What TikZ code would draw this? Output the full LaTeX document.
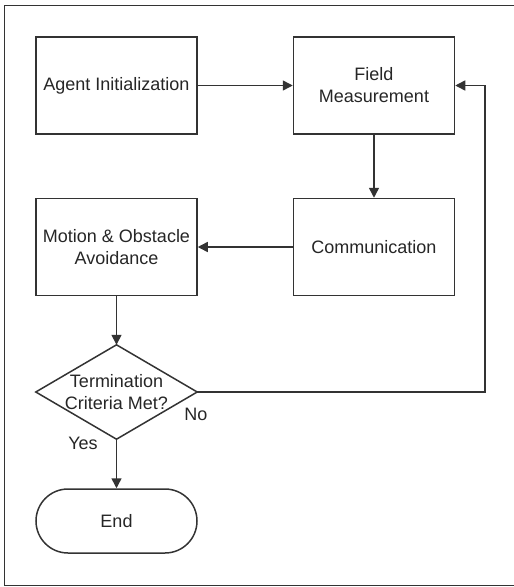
\documentclass[tikz,border=0pt]{standalone}
\usepackage{fontspec}
\setmainfont{Liberation Sans}
\usetikzlibrary{arrows.meta}
\begin{document}
\begin{tikzpicture}[x=1pt,y=-1pt,
  every node/.style={font=\fontsize{18}{22}\selectfont, text=black!85, align=center},
  box/.style={draw=black!80, line width=1.5pt, minimum width=161pt, minimum height=97pt, inner sep=0pt},
  term/.style={draw=black!80, line width=1.5pt, minimum width=161pt, minimum height=64pt, inner sep=0pt, rounded corners=32pt},
  decbox/.style={minimum width=161pt, minimum height=94pt, inner sep=0pt},
  arr/.style={draw=black!80, line width=1.5pt, -{Triangle[length=10pt,width=10pt]}},
  lbl/.style={inner sep=0pt}]
\useasboundingbox (0,0) rectangle (514,587);
\draw[black!80, line width=1pt] (516,5) -- (4,5) -- (4,585) -- (516,585);
\node[box] (agent) at (116.5,85.5) {Agent Initialization};
\node[box] (field) at (374,85.5) {Field\\Measurement};
\node[box] (comm) at (374,247) {Communication};
\node[box] (motion) at (116.5,247) {Motion \& Obstacle\\Avoidance};
\node[decbox] (dec) at (116.5,392) {Termination\\Criteria Met?};
\draw[black!80, line width=1.5pt] (dec.north) -- (dec.east) -- (dec.south) -- (dec.west) -- cycle;
\node[term] (end) at (116.5,521) {End};
\coordinate (loopc) at (485,392);
\draw[arr] (agent.east) -- (field.west);
\draw[arr] (field.south) -- (comm.north);
\draw[arr] (comm.west) -- (motion.east);
\draw[arr] (motion.south) -- (dec.north);
\draw[arr] (dec.south) -- (end.north);
\draw[arr] (dec.east) -- (loopc) |- (field.east);
\node[lbl] (no) at (196,414) {No};
\node[lbl] (yes) at (83,443) {Yes};
\end{tikzpicture}
\end{document}
